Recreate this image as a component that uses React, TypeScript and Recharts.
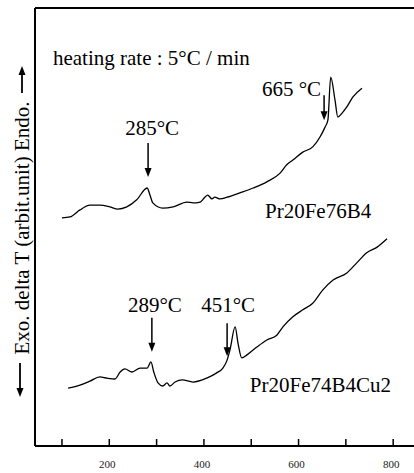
import React from "react";
import { LineChart, Line, XAxis, YAxis, ReferenceLine, ReferenceDot } from "recharts";

// Temperature (°C) and delta T (arbitrary units)
const TOP_T = [100,117,138,159,180,201,218,237,258,280,286,292,313,335,364,377,392,402,408,417,423,434,449,476,504,533,561,575,588,609,630,645,656,662,668,677,683,692,702,715,734];
const TOP_V = [52.1,52.3,53.9,55.0,55.0,54.6,54.1,54.6,56.2,58.9,57.3,55.5,54.3,54.6,55.7,55.5,55.7,56.8,57.3,56.4,56.8,56.4,56.8,57.8,58.9,60.3,62.3,64.2,65.3,67.1,68.3,70.5,72.8,74.4,84.2,79.0,75.1,76.0,77.4,79.7,81.7];

const BOT_T = [113,138,159,180,195,212,223,233,248,265,280,288,294,303,313,322,328,339,354,377,406,427,440,449,455,466,472,480,491,512,533,554,567,588,609,630,651,673,702,723,744,766,787];
const BOT_V = [13.2,13.9,14.8,15.8,15.5,15.3,16.9,17.6,16.9,17.8,17.8,19.2,16.9,14.4,13.7,14.4,13.7,14.6,15.1,14.6,15.5,16.7,17.8,19.6,21.9,27.2,23.5,20.1,20.8,22.6,24.2,25.3,27.2,29.5,31.1,32.6,35.6,37.9,39.5,41.8,44.1,45.4,47.3];

const X_TICKS = [100,200,300,400,500,600,700,800];
const X_LABELED = [200,400,600,800];

// annotation arrows: tip position (T, v) and label
const ARROW_T = [282, 654, 290, 449];
const ARROW_V = [61.4, 74.4, 21.5, 20.5];
const ARROW_LABELS = ["285°C", "665 °C", "289°C", "451°C"];

// free text labels (anchor position in data units)
const TEXT_T = [81, 529, 497];
const TEXT_V = [87.0, 52.1, 12.3];
const TEXT_LABELS = ["heating rate : 5°C / min", "Pr20Fe76B4", "Pr20Fe74B4Cu2"];

const Y_LABEL = "Exo. delta T (arbit.unit) Endo.";

const FONT = "'Liberation Serif', 'Times New Roman', serif";

const topData = TOP_T.map((t, i) => ({ t, v: TOP_V[i] }));
const botData = BOT_T.map((t, i) => ({ t, v: BOT_V[i] }));

// per-arrow styling (offsets from arrow tip in pixels)
const ARROW_STYLE = [
  { len: 34, dx: 4, dy: -42, anchor: "middle" },
  { len: 25, dx: -3, dy: -24, anchor: "end" },
  { len: 34, dx: 3, dy: -40, anchor: "middle" },
  { len: 33, dx: 1, dy: -44, anchor: "middle" },
];

const Tick = (props: any) => {
  const { x, y, payload } = props;
  const v = payload.value;
  return (
    <g>
      <line x1={x} y1={y} x2={x} y2={y - 7} stroke="#000" strokeWidth={1.5} />
      {X_LABELED.includes(v) && (
        <text x={x - 2} y={y + 22} textAnchor="middle" fontSize={11} fontFamily={FONT} fill="#222">
          {v}
        </text>
      )}
    </g>
  );
};

const YLabel = (props: any) => {
  const vb = props.viewBox || { x: 0, y: 8, width: 35, height: 438 };
  const cx = 22;
  const cy = 228;
  return (
    <g>
      <text
        x={cx}
        y={cy}
        transform={`rotate(-90, ${cx}, ${cy})`}
        textAnchor="middle"
        dominantBaseline="central"
        fontSize={21}
        fontFamily={FONT}
        fill="#000"
      >
        {Y_LABEL}
      </text>
      <line x1={22} y1={93} x2={22} y2={73} stroke="#000" strokeWidth={1.8} />
      <polygon points="22,66 18.5,75 25.5,75" fill="#000" />
      <line x1={20} y1={363} x2={20} y2={390} stroke="#000" strokeWidth={1.8} />
      <polygon points="20,397 16.5,388 23.5,388" fill="#000" />
    </g>
  );
};

const makeArrow = (i: number) => (p: any) => {
  const { cx, cy } = p;
  const s = ARROW_STYLE[i];
  return (
    <g>
      <line x1={cx} y1={cy - s.len} x2={cx} y2={cy - 7} stroke="#000" strokeWidth={1.5} />
      <polygon points={`${cx},${cy} ${cx - 3.5},${cy - 9} ${cx + 3.5},${cy - 9}`} fill="#000" />
      <text x={cx + s.dx} y={cy + s.dy} textAnchor={s.anchor} fontSize={21} fontFamily={FONT} fill="#000">
        {ARROW_LABELS[i]}
      </text>
    </g>
  );
};

const makeText = (i: number) => (p: any) => {
  const { cx, cy } = p;
  return (
    <text x={cx} y={cy} textAnchor="start" fontSize={21} fontFamily={FONT} fill="#000">
      {TEXT_LABELS[i]}
    </text>
  );
};

export default function App() {
  return (
    <div style={{ position: "absolute", left: 0, top: 0, width: 414, height: 473, background: "#fff" }}>
      <LineChart width={414} height={473} margin={{ top: 8, right: 0, bottom: 0, left: 0 }}>
        <XAxis
          type="number"
          dataKey="t"
          domain={[43, 844]}
          ticks={X_TICKS}
          allowDataOverflow
          height={27}
          tickSize={0}
          tickMargin={0}
          tickLine={false}
          axisLine={{ stroke: "#000", strokeWidth: 2 }}
          tick={<Tick />}
          interval={0}
        />
        <YAxis
          type="number"
          domain={[0, 100]}
          width={35}
          tick={false}
          tickLine={false}
          axisLine={{ stroke: "#000", strokeWidth: 2 }}
          label={<YLabel />}
        />
        <ReferenceLine y={100} stroke="#000" strokeWidth={2} />
        <Line data={topData} dataKey="v" type="monotone" stroke="#000" strokeWidth={1.3} dot={false} isAnimationActive={false} />
        <Line data={botData} dataKey="v" type="monotone" stroke="#000" strokeWidth={1.3} dot={false} isAnimationActive={false} />
        {ARROW_T.map((t, i) => (
          <ReferenceDot key={`a${i}`} x={t} y={ARROW_V[i]} r={0} shape={makeArrow(i)} />
        ))}
        {TEXT_T.map((t, i) => (
          <ReferenceDot key={`t${i}`} x={t} y={TEXT_V[i]} r={0} shape={makeText(i)} />
        ))}
      </LineChart>
    </div>
  );
}
